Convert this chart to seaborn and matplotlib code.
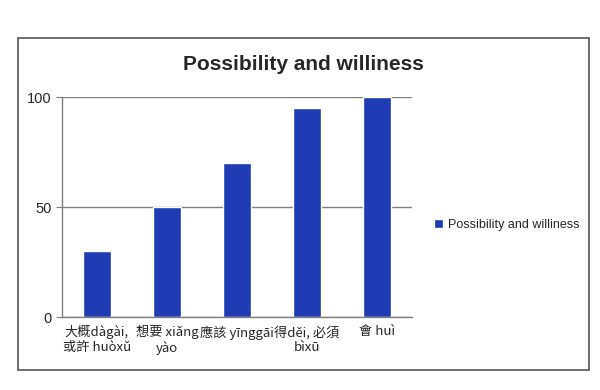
import matplotlib
matplotlib.use("Agg")
import matplotlib.pyplot as plt
import seaborn as sns
import pandas as pd
from matplotlib.patches import Rectangle

categories = ["大概dàgài,\n或許 huòxǔ", "想要 xiǎng\nyào", "應該 yīnggāi", "得děi, 必須\nbìxū", "會 huì"]
values = [30, 50, 70, 95, 100]
series_name = "Possibility and williness"

sns.set_style("white")
plt.rcParams['font.family'] = ['Liberation Sans', 'Noto Sans CJK TC', 'DejaVu Sans']

df = pd.DataFrame({"word": categories, "value": values})

fig = plt.figure(figsize=(6, 3.9), dpi=100)
ax = fig.add_axes([0.103, 0.187, 0.584, 0.564])

sns.barplot(data=df, x="word", y="value", color="#1f3cb4", saturation=1,
            width=0.4, label=series_name, ax=ax)

ax.set_ylim(0, 100)
ax.set_xlim(-0.5, len(categories) - 0.5)
ax.set_yticks([0, 50, 100])
ax.set_xlabel("")
ax.set_ylabel("")
ax.yaxis.grid(True, color="#808080", lw=1)
ax.set_axisbelow(True)
for s in ["top", "right"]:
    ax.spines[s].set_visible(False)
for s in ["left", "bottom"]:
    ax.spines[s].set_color("#808080")
    ax.spines[s].set_linewidth(1)

# ticks between categories, like the original chart
ax.set_xticks([i - 0.5 for i in range(len(categories) + 1)], minor=True)
ax.tick_params(axis="x", which="minor", length=4, color="#808080", direction="out")
ax.tick_params(axis="x", which="major", length=0, pad=6)
ax.tick_params(axis="y", length=4, color="#808080", direction="out", labelsize=10.5, left=True)
for lab in ax.get_xticklabels():
    lab.set_multialignment("center")
    lab.set_family(['Liberation Sans Narrow', 'Noto Sans CJK TC', 'DejaVu Sans'])
    lab.set_fontsize(9.5)
    lab.set_linespacing(1.15)

fig.text(0.505, 0.835, series_name, ha="center", va="center", fontsize=15, fontweight="bold")

ax.legend(loc="center left", bbox_to_anchor=(1.03, 0.42), frameon=False, fontsize=9,
          handlelength=0.7, handleheight=0.7, handletextpad=0.4)

fig.patches.append(Rectangle((0.03, 0.051), 0.952, 0.852, transform=fig.transFigure,
                             fill=False, edgecolor="#555555", lw=1.2))

fig.savefig("out.png", dpi=100)
